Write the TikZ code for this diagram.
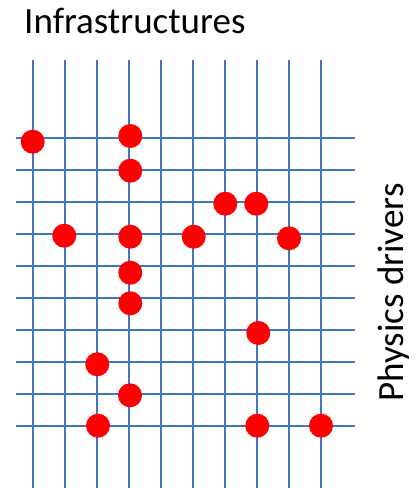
\documentclass[tikz,border=0pt]{standalone}
\usepackage{fontspec}
\setmainfont{Carlito}
\usetikzlibrary{positioning}

\definecolor{gridblue}{HTML}{4472C4}

\begin{document}
\begin{tikzpicture}[
		x=1pt, y=-1pt,
		gridline/.style={draw=gridblue, line width=2pt},
		dot/.style={circle, fill=red, inner sep=0pt, minimum size=24pt},
		axislabel/.style={inner sep=0pt, font=\fontsize{37}{40}\selectfont}
		]
		
		\useasboundingbox (0,0) rectangle (417,488);
		
		% =========================
		% Grid
		% =========================
		\foreach \i in {0,...,9}
		\draw[gridline] ({32.7+32.05*\i},60) -- ({32.7+32.05*\i},488);
		\foreach \j in {0,...,9}
		\draw[gridline] (15.7,{138.3+32*\j}) -- (355,{138.3+32*\j});
		
		% =========================
		% Labels
		% =========================
		\node[axislabel, anchor=base west] (infra) at (24,33) {Infrastructures};
		\node[axislabel, anchor=base, rotate=90] (physics) at (403,292.5) {Physics drivers};
		
		% =========================
		% Dots
		% =========================
		\node[dot] (d1) at (32.7,141.7) {};
		\node[dot] (d2) at (130.3,136) {};
		\node[dot] (d3) at (130.3,170.7) {};
		\node[dot] (d4) at (225.3,203.7) {};
		\node[dot] (d5) at (256.3,203.7) {};
		\node[dot] (d6) at (64.3,235.7) {};
		\node[dot] (d7) at (130.3,236.7) {};
		\node[dot] (d8) at (193.7,236.7) {};
		\node[dot] (d9) at (289,238.3) {};
		\node[dot] (d10) at (130.3,272.7) {};
		\node[dot] (d11) at (130.3,303.3) {};
		\node[dot] (d12) at (258.3,333) {};
		\node[dot] (d13) at (97.3,364.3) {};
		\node[dot] (d14) at (130,395.3) {};
		\node[dot] (d15) at (98,425.7) {};
		\node[dot] (d16) at (257.3,425.7) {};
		\node[dot] (d17) at (321,425.7) {};
		
	\end{tikzpicture}
\end{document}
